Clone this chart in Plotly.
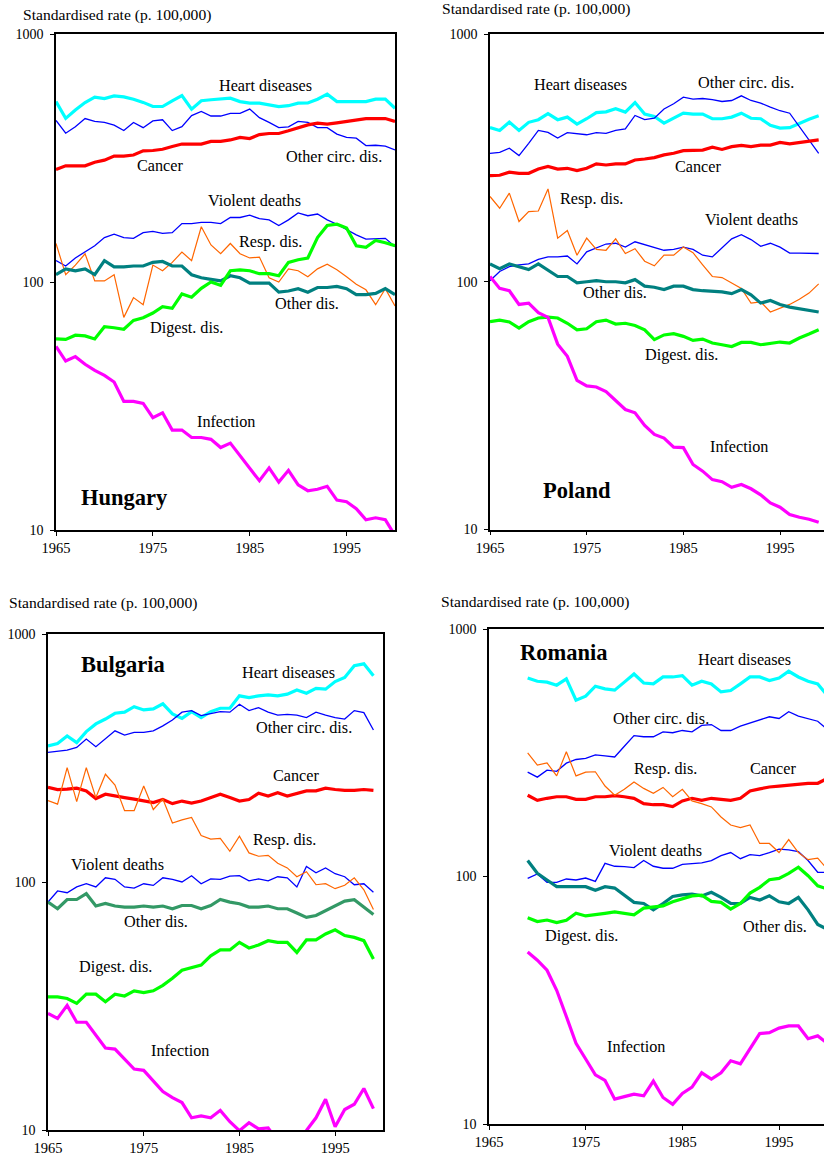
import plotly.graph_objects as go

W, H = 824, 1155
FONT = "Liberation Serif, Times New Roman, Times, DejaVu Serif, serif"

# ---------------- data ----------------
HU_YEARS = list(range(1965, 2001))
HU_HEART = [534,457,494,529,556,549,563,558,546,530,510,510,538,565,498,538,543,545,551,534,526,526,518,510,514,526,527,546,572,534,534,534,534,546,546,502]
HU_OCIRC = [448,398,423,456,444,440,429,408,440,419,446,451,408,423,469,487,467,467,479,479,498,460,440,419,422,444,440,419,419,395,383,380,355,356,353,341]
HU_CANCER = [284,294,294,294,304,310,322,322,325,338,339,343,352,360,360,360,369,369,374,383,379,393,397,397,407,419,430,437,433,438,444,451,456,456,456,444]
HU_VIOLENT = [122,116,125,132,140,151,156,151,150,158,160,157,158,172,172,174,174,172,182,182,186,180,178,169,178,190,185,188,178,171,163,155,149,150,150,139]
HU_RESP = [143,107,117,130,101,101,107,72,86.5,81,117,111,120,132,122,167,141,130,143,130,125,126,104,100,113,111,105,113,118,112,105,98,93,81,94,80]
HU_OTHER = [107,113,111,113,107,122,115,115,116,116,120,121,116,116,107,104,102.5,101,106,104,99,99,99,91,92,94,91,95,95,96,94,89,89,90,94,89]
HU_DIGEST = [59,58.7,61,60.6,58.9,66,65.4,64.5,70,71.8,75,79.5,78.3,89.5,86.8,94.3,100,97,111,112,111,108,108,106,120,123,125,151,169,171,165,140,138,147,144,140]
HU_INFECT = [55,48,50,46.6,44,42,39.5,33,33,32.4,28.4,29.7,25.3,25.3,23.6,23.6,23.2,21.5,22.4,19.9,17.6,15.8,17.8,15.6,17.4,15.2,14.4,14.6,15.0,13.2,13.0,12.2,11.0,11.2,11.0,9.5]

PL_YEARS = list(range(1965, 2000))
PL_HEART = [419,408,441,408,440,451,477,451,462,433,455,482,485,499,484,529,475,465,437,456,479,475,475,455,455,462,479,457,455,428,417,419,437,453,468]
PL_OCIRC = [330,333,346,323,362,408,401,380,400,395,392,400,397,408,414,469,451,457,498,523,556,546,549,543,534,539,563,539,526,507,490,479,423,374,330]
PL_CANCER = [268,269,277,274,274,285,292,285,287,281,287,299,296,299,299,310,313,317,325,330,338,338,340,349,342,351,355,351,356,356,365,360,365,369,374]
PL_RESP = [221,198,228,175,192,193,237,150,161,128,150,135,134,149,130,136,121,116,128,128,138,131,117,105,104,99,94,82,83,75.5,78,81,85,90,98]
PL_VIOLENT = [101,110,115,117,118,123,126,126,127,118,132,137,142,143,138,145,141,138,134,135,138,135,128,126,137,149,155,148,139,143,138,130.5,130.5,130.5,130]
PL_OTHER = [118,113,118,115,112,118,111,105,105,99,100,101,100,100,99,102,96,95,93,96,96,93,92,91.4,91,89.5,93,88.5,82,84,81,79,78,76.6,75.5]
PL_DIGEST = [69,70,68.8,65,69,71.4,72,71.4,68,64,64.6,69,70,67.5,68,66.6,64,58.4,61,61.7,60.2,58,58.7,56.6,55.7,54.8,56.9,56.9,55.7,56.6,57.1,56.6,59.3,61.5,64]
PL_INFECT = [105,94,92,81,82,75,71.8,56,50,40,38,37.6,36,33,30.5,29.6,26.3,24.2,23.4,21.5,21.4,18.3,17.2,15.9,15.6,14.8,15.2,14.6,13.8,12.8,12.3,11.5,11.2,11.0,10.7]

BG_YEARS = list(range(1965, 2000))
BG_HEART = [354,362,388,365,404,434,454,479,484,509,494,499,523,476,457,486,460,486,502,502,563,554,563,568,563,572,595,577,604,599,643,668,745,758,678]
BG_OCIRC = [333,337,340,349,377,351,379,407,391,401,401,407,426,450,484,491,469,479,486,484,521,491,505,484,471,474,471,460,484,471,460,454,491,482,410]
BG_CANCER = [241,236,237,239,233,217,226,222,219,216,213,209,215,207,212,208,212,219,226,219,212,215,228,222,229,222,228,233,233,239,236,234,234,236,234]
BG_RESP = [213,206,289,211,289,219,272,246,194,194,244,196,216,173,178,182,154,149,150,133,153,131,127,128,119,114,105,110,97.5,98.4,94,97,104,93,77.5]
BG_VIOLENT = [83,92,90.5,95.5,98.4,95.5,104,102.5,95.5,94.5,98.4,96.9,104,102.5,100,106,98.4,103,102.5,105.7,106,101,103,101,105,104,95.5,115.6,109,114,108,105,97.5,98.4,91]
BG_OTHER = [83,78,85,85,89.7,80,82,80,79.2,79.2,80,79.2,80,78,80.4,80.4,78,80.4,85,83,81.7,79.2,79.2,80,78,78,75,72,73.3,76.7,80.4,83.8,84.8,79.2,74]
BG_DIGEST = [34.4,34.4,33.9,32.4,35.3,35.3,32.9,35.3,34.7,36.4,35.8,36.4,38.3,40.9,44.1,45.2,46.2,50.4,53.2,53.2,57.1,54.2,55.7,58,57.1,57.1,52,58.4,58.4,61.7,64.1,60.8,59.8,58,48.9]
BG_INFECT = [29.5,28.2,31.8,27.2,27.2,24.1,21.4,21.2,19.3,17.6,17.4,15.8,14.3,13.5,12.9,11.2,11.4,11.2,12.0,10.8,9.94,10.7,10.1,10.2,9.0,8.8,9.0,9.95,11.2,13.3,10.3,12.1,12.7,14.7,12.2]

RO_YEARS = list(range(1969, 2001))
RO_HEART = [634,615,610,593,629,516,535,587,573,566,610,658,605,600,640,640,648,593,615,600,557,564,600,640,640,619,634,675,640,615,600,538]
RO_OCIRC = [264,252,269,266,287,297,300,310,307,304,336,371,367,367,384,381,389,384,408,411,389,389,405,418,431,442,435,463,445,435,424,393]
RO_CANCER = [213,203,207,210,210,205,205,210,210,212,210,207,197,195,195,191.5,202,207,203,207,205,203,207,221.5,226,230,232,234,237,238,238,249]
RO_RESP = [316,282,288,255,319,255,264,265,232,213,225,241,227,217,229,210,225,202,197,191,174,161.5,157.5,161.5,136,136,125,141,125,117,118.6,107]
RO_VIOLENT = [98.3,102.4,94.7,94.7,97.7,96.8,98.6,95.6,113,110,109.6,108.6,116,110,108,108,112,113,113.5,116,121.5,125,118,122.6,121.5,125,129,128,126,116,104,104]
RO_OTHER = [116,103,96.8,91,91,91,91,88,91,89.8,84,78.6,77.8,73.3,77.8,83,84.3,84.9,83.5,86.3,82.3,77.8,77.8,82.3,80.3,83.5,79,77.8,82.3,73.3,64,61.2]
RO_DIGEST = [68.2,65.8,66.7,65.1,66.6,71,69.3,70.4,71,72,71,70,74.5,75.4,76.1,79,81,83.5,84,79.3,78.6,73.8,77.8,85.7,90.4,97,98.3,103,109,100.7,91.7,89]
RO_INFECT = [49.5,45.9,41.8,34.7,27.2,21.2,18.3,15.8,15.0,12.6,12.9,13.2,13.0,14.9,12.8,12.0,13.3,14.1,16.1,15.2,16.1,18.0,17.5,20.2,23.2,23.4,24.4,24.9,24.9,22.1,22.7,21.2]

SERIES_NAMES = ["Heart diseases", "Other circ. dis.", "Cancer", "Violent deaths",
                "Resp. dis.", "Other dis.", "Digest. dis.", "Infection"]
X_TICKS = [1965, 1975, 1985, 1995]
Y_TICKS = [10, 100, 1000]
Y_TICK_TEXT = ["10", "100", "1000"]
Y_TITLE = "Standardised rate (p. 100,000)"

# ---------------- styles ----------------
STYLE = {
    "Heart diseases": ("#00FFFF", 3.2),
    "Other circ. dis.": ("#0000FF", 1.3),
    "Cancer": ("#FF0000", 3.2),
    "Violent deaths": ("#0000FF", 1.3),
    "Resp. dis.": ("#FF6600", 1.2),
    "Other dis.": ("#008080", 3.2),
    "Digest. dis.": ("#00FF00", 3.2),
    "Infection": ("#FF00FF", 3.2),
}
BG_OTHER_COLOR = "#339966"


def px(x):
    return x / W


def py(y):
    return 1 - y / H


countries = [
    dict(name="Hungary", years=HU_YEARS,
         data=[HU_HEART, HU_OCIRC, HU_CANCER, HU_VIOLENT, HU_RESP, HU_OTHER, HU_DIGEST, HU_INFECT],
         xdom=(56, 395), ydom=(34, 530), xr=(1965, 2000), box=True,
         title=(21, 15), cname=(125, 497),
         labels={"Heart diseases": (265, 86), "Other circ. dis.": (334, 157), "Cancer": (160, 166),
                 "Violent deaths": (255, 201), "Resp. dis.": (270, 242), "Other dis.": (307, 304),
                 "Digest. dis.": (186, 328), "Infection": (226, 422)}),
    dict(name="Poland", years=PL_YEARS,
         data=[PL_HEART, PL_OCIRC, PL_CANCER, PL_VIOLENT, PL_RESP, PL_OTHER, PL_DIGEST, PL_INFECT],
         xdom=(490, 824), ydom=(34, 529.5), xr=(1965, 1999.55), box=False,
         title=(440, 9), cname=(577, 490),
         labels={"Heart diseases": (580, 85), "Other circ. dis.": (746, 83), "Cancer": (698, 167),
                 "Violent deaths": (751, 220), "Resp. dis.": (591, 199), "Other dis.": (615, 293),
                 "Digest. dis.": (681, 355), "Infection": (739, 447)}),
    dict(name="Bulgaria", years=BG_YEARS,
         data=[BG_HEART, BG_OCIRC, BG_CANCER, BG_VIOLENT, BG_RESP, BG_OTHER, BG_DIGEST, BG_INFECT],
         xdom=(48, 383), ydom=(634, 1130), xr=(1965, 2000), box=True,
         title=(7, 603), cname=(123, 664),
         labels={"Heart diseases": (288, 673), "Other circ. dis.": (304, 728), "Cancer": (296, 776),
                 "Violent deaths": (117, 865), "Resp. dis.": (284, 840), "Other dis.": (156, 922),
                 "Digest. dis.": (115, 967), "Infection": (180, 1051)}),
    dict(name="Romania", years=RO_YEARS,
         data=[RO_HEART, RO_OCIRC, RO_CANCER, RO_VIOLENT, RO_RESP, RO_OTHER, RO_DIGEST, RO_INFECT],
         xdom=(489, 824), ydom=(629, 1124), xr=(1965, 1999.65), box=False,
         title=(439, 602), cname=(564, 652),
         labels={"Heart diseases": (744, 660), "Other circ. dis.": (661, 719), "Cancer": (773, 769),
                 "Violent deaths": (655, 851), "Resp. dis.": (665, 769), "Other dis.": (775, 927),
                 "Digest. dis.": (581, 936), "Infection": (636, 1047)}),
]

fig = go.Figure()
annotations = []
layout_axes = {}

for i, c in enumerate(countries):
    k = "" if i == 0 else str(i + 1)
    xa, ya = "x" + k, "y" + k
    for name, vals in zip(SERIES_NAMES, c["data"]):
        color, width = STYLE[name]
        if c["name"] == "Bulgaria" and name == "Other dis.":
            color = BG_OTHER_COLOR
        fig.add_trace(go.Scatter(x=c["years"], y=vals, mode="lines", name=name,
                                 line=dict(color=color, width=width),
                                 xaxis=xa, yaxis=ya, showlegend=False,
                                 hoverinfo="skip"))
    layout_axes["xaxis" + k] = dict(
        domain=[px(c["xdom"][0]), px(c["xdom"][1])], anchor=ya,
        range=list(c["xr"]), tickvals=X_TICKS, ticks="outside", ticklen=4,
        tickcolor="black", showline=True, linecolor="black", linewidth=1.6,
        mirror=True, showgrid=False, zeroline=False, automargin=False,
        tickfont=dict(family=FONT, size=14.5, color="black"))
    layout_axes["yaxis" + k] = dict(
        domain=[py(c["ydom"][1]), py(c["ydom"][0])], anchor=xa,
        type="log", range=[1, 3], tickvals=Y_TICKS, ticktext=Y_TICK_TEXT,
        ticks="outside", ticklen=4, tickcolor="black", showline=True,
        linecolor="black", linewidth=1.6, mirror=c["box"], showgrid=False,
        zeroline=False, ticklabelstandoff=4, automargin=False,
        tickfont=dict(family=FONT, size=14, color="black"))
    annotations.append(dict(text=Y_TITLE, x=px(c["title"][0]), y=py(c["title"][1]),
                            xref="paper", yref="paper", xanchor="left", yanchor="middle",
                            showarrow=False, font=dict(family=FONT, size=15.6, color="black")))
    annotations.append(dict(text="<b>%s</b>" % c["name"], x=px(c["cname"][0]), y=py(c["cname"][1]),
                            xref="paper", yref="paper", xanchor="center", yanchor="middle",
                            showarrow=False, font=dict(family=FONT, size=22.5, color="black")))
    for lab, (lx, ly) in c["labels"].items():
        annotations.append(dict(text=lab, x=px(lx), y=py(ly), xref="paper", yref="paper",
                                xanchor="center", yanchor="middle", showarrow=False,
                                font=dict(family=FONT, size=16.2, color="black")))

fig.update_layout(width=W, height=H, autosize=False,
                  margin=dict(l=0, r=0, t=0, b=0, pad=0, autoexpand=False),
                  font=dict(family=FONT, color="black"),
                  paper_bgcolor="white", plot_bgcolor="white",
                  annotations=annotations, **layout_axes)

fig.write_html("out.html", config={"responsive": False, "displayModeBar": False},
               post_script="document.body.style.margin='0px';document.body.style.overflow='hidden';")
